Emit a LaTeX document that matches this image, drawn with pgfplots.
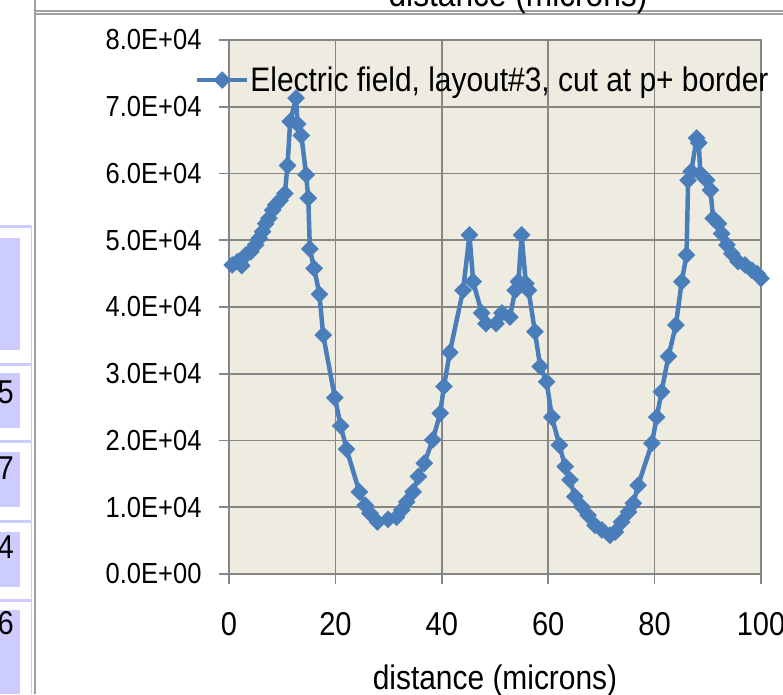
\documentclass[border=0pt]{standalone}
\usepackage{pgfplots}
\pgfplotsset{compat=1.18}
\usepackage{fontspec}
\setmainfont{Liberation Sans}[FakeStretch=0.88]
\definecolor{bgb}{HTML}{EEECE1}
\definecolor{gridc}{HTML}{868686}
\definecolor{serc}{HTML}{4A7EBB}
\definecolor{lav}{HTML}{CCCCFF}
\definecolor{framec}{HTML}{A0A0A0}
\newcommand{\fs}[1]{\fontsize{#1}{#1}\selectfont}
\begin{document}
\begin{tikzpicture}[x=1pt,y=1pt]
\useasboundingbox (0,0) rectangle (783,694);
% fragments of the surrounding sheet
\fill[lav] (0,344) rectangle (20,456);
\fill[lav] (0,266) rectangle (20,321);
\fill[lav] (0,187) rectangle (20,242);
\fill[lav] (0,107) rectangle (20,162);
\fill[lav] (0,0) rectangle (20,84);
\foreach \yy in {467,330,253,173,94} {\fill[lav] (0,\yy-1.5) rectangle (32,\yy+1.5);}
\draw[lav, line width=1pt] (31.5,0) -- (31.5,467);
\draw[framec, line width=2pt] (34.5,0) -- (34.5,694);
\draw[framec, line width=1.2pt] (34.5,683) -- (783,683);
\draw[framec, line width=1.2pt] (34.5,680) -- (783,680);
\node[anchor=base, font=\fs{36}, inner sep=0pt] at (518,687.5) {distance (microns)};
\node[anchor=east, font=\fs{33}, inner sep=0pt] at (14,302) {5};
\node[anchor=east, font=\fs{33}, inner sep=0pt] at (14,226) {7};
\node[anchor=east, font=\fs{33}, inner sep=0pt] at (14,147) {4};
\node[anchor=east, font=\fs{33}, inner sep=0pt] at (14,71) {6};
\begin{axis}[
  at={(229pt,120pt)}, anchor=south west,
  scale only axis, width=532pt, height=534pt,
  xmin=0, xmax=100, ymin=0, ymax=80000,
  axis background/.style={fill=bgb},
  axis line style={gridc, line width=1.6pt},
  grid=major, grid style={gridc, line width=1.6pt},
  xtick={0,20,40,60,80,100}, xticklabels={0,20,40,60,80,100},
  ytick={0,10000,20000,30000,40000,50000,60000,70000,80000},
  yticklabels={0.0E+00,1.0E+04,2.0E+04,3.0E+04,4.0E+04,5.0E+04,6.0E+04,7.0E+04,8.0E+04},
  scaled ticks=false,
  tick align=outside, xtick pos=bottom, ytick pos=left,
  major tick length=10pt,
  tick style={gridc, line width=1.6pt},
  xticklabel style={font=\fs{33}, yshift=-25pt},
  yticklabel style={font=\fs{29}, xshift=-14pt},
  xlabel={distance (microns)},
  xlabel style={font=\fs{34}, at={(axis description cs:0.5,-0.2)}, anchor=center},
  legend style={at={(axis description cs:-0.064,0.925)}, anchor=west, draw=none, fill=none,
    font=\fs{34}, inner sep=0pt, outer sep=0pt, nodes={inner sep=1pt}},
  legend image code/.code={\draw[#1, mark repeat=2, mark phase=2] plot coordinates {(0pt,0pt) (25pt,0pt) (50pt,0pt)};},
  clip=false,
]
\addplot[color=serc, line width=4.5pt, line join=round, mark=square*, mark size=6pt,
  mark options={rotate=45, solid, fill=serc, draw=serc, line width=0.5pt}] coordinates {
(0.6,46300) (1.6,46800) (2.4,46200) (3.2,47800) (4.1,48300) (5.0,49300) (5.7,50300)
(6.3,51300) (6.9,52500) (7.5,53300) (8.2,54500) (8.8,55300) (9.6,56000) (10.5,57000)
(11.0,61200) (11.5,67800) (12.6,71300) (12.9,67400) (13.6,65700) (14.5,59800) (14.9,56300)
(15.2,48700) (16.0,45800) (17.0,41900) (17.7,35800) (19.9,26400) (21.0,22200) (22.1,18700)
(24.5,12300) (25.6,10300) (26.5,9100) (27.9,7800) (29.9,8200) (31.5,8500) (32.5,9600)
(33.4,10800) (34.6,12300) (35.6,14600) (36.7,16600) (38.3,20100) (39.7,24100) (40.4,28100)
(41.5,33200) (44.0,42500) (45.2,50800) (45.9,43800) (47.5,39100) (48.3,37500) (50.2,37500)
(51.3,39100) (52.8,38500) (53.8,42500) (54.4,43800) (55.0,50800) (55.8,43500) (56.3,42500)
(57.5,36300) (58.5,31100) (59.7,28800) (60.7,23500) (62.1,19300) (63.2,16100) (64.1,14100)
(65.0,11600) (66.3,10100) (67.5,8800) (68.8,7300) (70.1,6600) (71.6,5800) (72.6,6300)
(73.8,7800) (75.1,9300) (76.0,10600) (76.9,13300) (79.5,19600) (80.4,23500) (81.3,27300)
(82.6,32600) (84.0,37300) (85.1,43800) (86.0,47800) (86.3,59000) (86.9,60300) (87.9,65300)
(88.3,64600) (88.6,60000) (89.8,59000) (90.5,57500) (91.0,53300) (92.0,52500) (92.6,51000)
(93.6,49300) (94.5,48000) (95.7,46800) (97.0,46300) (98.3,45500) (99.3,45000) (100.0,44300)
};
\addlegendentry{Electric field, layout\#3, cut at p+ border}
\end{axis}
\end{tikzpicture}
\end{document}
